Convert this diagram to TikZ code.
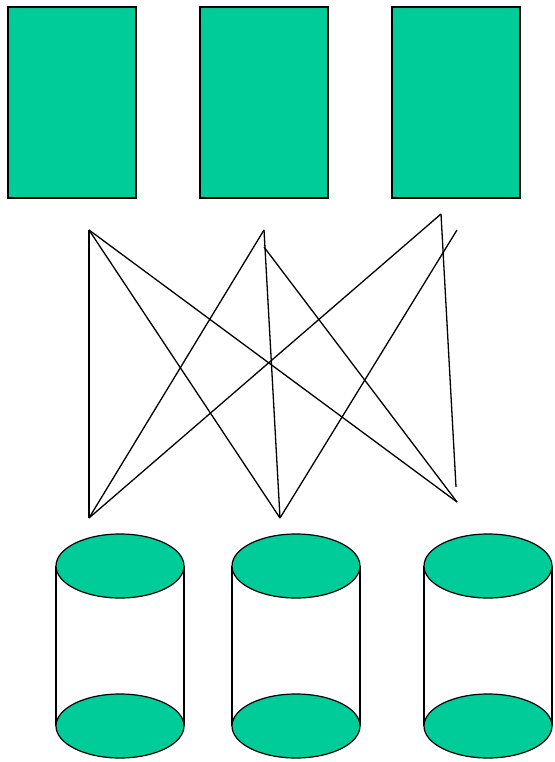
\documentclass[tikz,border=0pt]{standalone}
\definecolor{boxgreen}{HTML}{00CC99}
\tikzset{
  box/.style={draw=black, fill=boxgreen, line width=1.2pt},
  wire/.style={draw=black, line width=1.3pt},
  lid/.style={draw=black, fill=boxgreen, line width=1.2pt},
}
\begin{document}
\begin{tikzpicture}[x=1pt,y=-1pt]
\useasboundingbox (0,0) rectangle (554,762);
% rectangles
\path[box] (8,7) rectangle (136,198);
\path[box] (200,7) rectangle (328,198);
\path[box] (392,7) rectangle (520,198);
% coordinates
\coordinate (a) at (89,230);
\coordinate (b) at (264,230);
\coordinate (b2) at (264,247);
\coordinate (c) at (441,214);
\coordinate (c2) at (457,230);
\coordinate (p) at (89,518);
\coordinate (q) at (280,518);
\coordinate (r) at (457,502);
\coordinate (r2) at (456,487);
% wires
\draw[wire] (a) -- (p);
\draw[wire] (a) -- (q);
\draw[wire] (a) -- (r);
\draw[wire] (b) -- (p);
\draw[wire] (b) -- (q);
\draw[wire] (b2) -- (r);
\draw[wire] (c) -- (p);
\draw[wire] (c) -- (r2);
\draw[wire] (c2) -- (q);
% cylinders
\foreach \x in {120,296,488}{
  \draw[wire] (\x-64,566) -- (\x-64,726);
  \draw[wire] (\x+64,566) -- (\x+64,726);
  \path[lid] (\x,726) ellipse [x radius=64, y radius=32];
  \path[lid] (\x,566) ellipse [x radius=64, y radius=32];
}
\end{tikzpicture}
\end{document}
